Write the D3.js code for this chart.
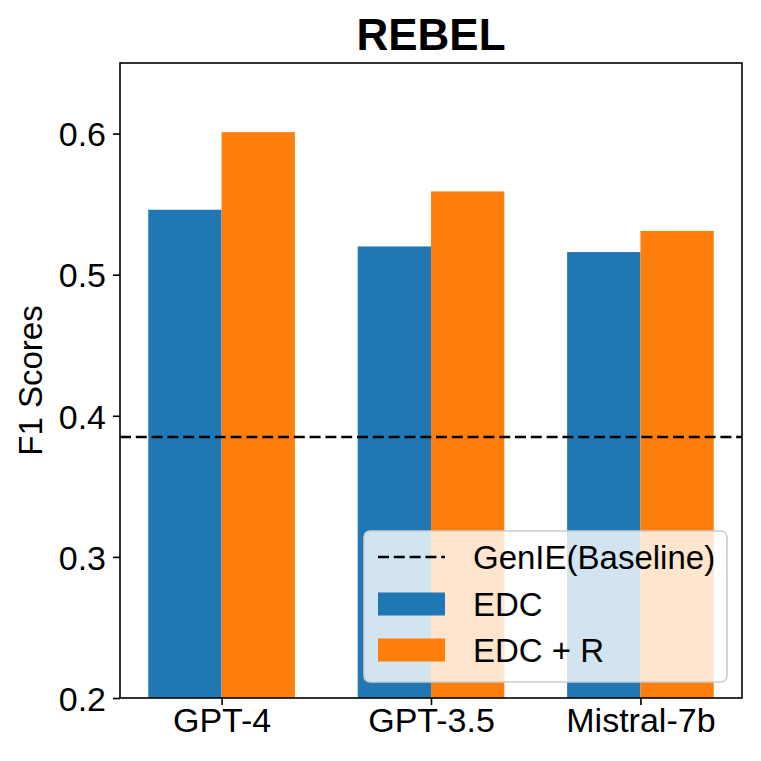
<!DOCTYPE html>
<html>
<head>
<meta charset="utf-8">
<script src="https://cdn.jsdelivr.net/npm/d3@7"></script>
<style>
  body { margin: 0; background: #fff; }
  text { font-family: "Liberation Sans", Arial, sans-serif; fill: #000; }
</style>
</head>
<body>
<div id="chart"></div>
<script>
// data
const models = ["GPT-4", "GPT-3.5", "Mistral-7b"];
const edc = [0.546, 0.520, 0.516];
const edcR = [0.601, 0.559, 0.531];
const baseline = 0.385;
const yTicks = [0.2, 0.3, 0.4, 0.5, 0.6];
const seriesNames = ["EDC", "EDC + R"];
const seriesColors = ["#1f77b4", "#ff7f0e"];

const W = 761, H = 761;
const margin = { top: 63, right: 19, bottom: 63, left: 120 };
const iw = W - margin.left - margin.right;
const ih = H - margin.top - margin.bottom;

const svg = d3.select("#chart").append("svg")
    .attr("width", W)
    .attr("height", H);
const g = svg.append("g")
    .attr("transform", `translate(${margin.left},${margin.top})`);

// matplotlib style positions: groups at 0,1,2 with bar width 0.35
const barW = 0.35;
const x = d3.scaleLinear().domain([-0.485, 2.485]).range([0, iw]);
const y = d3.scaleLinear().domain([0.2, 0.65]).range([ih, 0]);

const rows = models.map((m, i) => ({ i, m, vals: [edc[i], edcR[i]] }));

// bars
rows.forEach(r => {
    r.vals.forEach((v, k) => {
        const x0 = r.i + (k === 0 ? -barW : 0);
        g.append("rect")
            .attr("x", x(x0))
            .attr("width", x(x0 + barW) - x(x0))
            .attr("y", y(v))
            .attr("height", y(0.2) - y(v))
            .attr("fill", seriesColors[k]);
    });
});

// baseline
g.append("line")
    .attr("x1", 0).attr("x2", iw)
    .attr("y1", y(baseline)).attr("y2", y(baseline))
    .attr("stroke", "#000")
    .attr("stroke-width", 2.6)
    .attr("stroke-dasharray", "11,4.8");

// axes
const yAxis = g.append("g")
    .call(d3.axisLeft(y).tickValues(yTicks).tickFormat(d3.format(".1f")).tickSize(7).tickPadding(7));
const xAxis = g.append("g")
    .attr("transform", `translate(0,${ih})`)
    .call(d3.axisBottom(x).tickValues([0, 1, 2]).tickFormat(d => models[d]).tickSize(7).tickPadding(7));
[yAxis, xAxis].forEach(a => {
    a.select(".domain").remove();
    a.selectAll("line").attr("stroke", "#000").attr("stroke-width", 1.6);
    a.selectAll("text").style("font-size", "34px").attr("fill", "#000");
});
yAxis.selectAll("text").attr("dy", "0.36em");
xAxis.selectAll("text").attr("dy", "0.6em");

// frame
g.append("rect")
    .attr("width", iw).attr("height", ih)
    .attr("fill", "none")
    .attr("stroke", "#000")
    .attr("stroke-width", 1.6);

// title and y label
svg.append("text")
    .attr("x", margin.left + iw / 2)
    .attr("y", 50)
    .attr("text-anchor", "middle")
    .style("font-size", "44px")
    .style("font-weight", "bold")
    .text("REBEL");
svg.append("text")
    .attr("transform", `translate(42,${margin.top + ih / 2}) rotate(-90)`)
    .attr("text-anchor", "middle")
    .style("font-size", "33px")
    .text("F1 Scores");

// legend
const lg = svg.append("g").attr("transform", "translate(364,531)");
lg.append("rect")
    .attr("width", 363).attr("height", 151)
    .attr("rx", 6)
    .attr("fill", "#fff").attr("fill-opacity", 0.8)
    .attr("stroke", "#ccc").attr("stroke-width", 1.6);
lg.append("line")
    .attr("x1", 14).attr("x2", 81)
    .attr("y1", 26).attr("y2", 26)
    .attr("stroke", "#000").attr("stroke-width", 2.6)
    .attr("stroke-dasharray", "11,4.8");
lg.append("text").attr("x", 109).attr("y", 26).attr("dy", "0.36em")
    .style("font-size", "33px").text("GenIE(Baseline)");
seriesNames.forEach((name, k) => {
    const cy = 73 + k * 46;
    lg.append("rect")
        .attr("x", 14).attr("y", cy - 11.5)
        .attr("width", 67).attr("height", 23)
        .attr("fill", seriesColors[k]);
    lg.append("text").attr("x", 109).attr("y", cy).attr("dy", "0.36em")
        .style("font-size", "33px").text(name);
});
</script>
</body>
</html>
